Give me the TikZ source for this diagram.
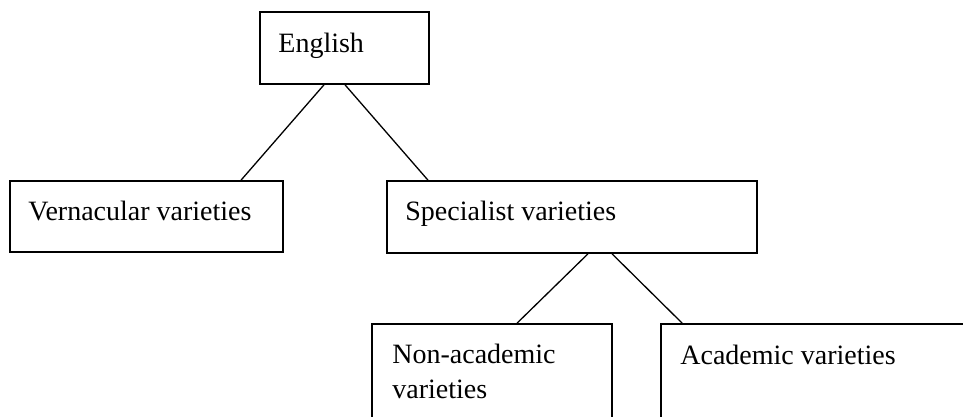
\documentclass[tikz,border=0pt]{standalone}
\usepackage{fontspec}
\setmainfont{Liberation Serif}
\usetikzlibrary{calc}

\begin{document}
\begin{tikzpicture}[x=1pt,y=1pt]
  \tikzset{box/.style={draw,line width=1.6pt,inner sep=0pt},
           txt/.style={anchor=base west,inner sep=0pt,align=left,
                       font=\fontsize{28}{35}\selectfont}}
  \useasboundingbox (0,0) rectangle (963,-417);
  \clip (0,0) rectangle (963,-417);
  \node[box,minimum width=169,minimum height=72] (english) at (344.5,-48)  {};
  \node[box,minimum width=273,minimum height=71] (vern)    at (146.5,-216.5) {};
  \node[box,minimum width=370,minimum height=72] (spec)    at (572,-217)  {};
  \node[box,minimum width=240,minimum height=116] (nonacad) at (492,-382) {};
  \node[box,minimum width=330,minimum height=116] (acad)   at (826,-382)  {};
  \node[txt] (englishtxt) at ([shift={(19,-41)}]english.north west) {English};
  \node[txt] (verntxt)    at ([shift={(19,-40)}]vern.north west)    {Vernacular varieties};
  \node[txt] (spectxt)    at ([shift={(19,-40)}]spec.north west)    {Specialist varieties};
  \node[txt] (nonacadtxt) at ([shift={(21,-75)}]nonacad.north west) {Non-academic\\varieties};
  \node[txt] (acadtxt)    at ([shift={(20,-41)}]acad.north west)    {Academic varieties};
  \draw[line width=1.3pt] ([xshift=-20.5]english.south) -- ([xshift=94.5]vern.north);
  \draw[line width=1.3pt] ([xshift=0.5]english.south)   -- ([xshift=-144]spec.north);
  \draw[line width=1.3pt] ([xshift=16]spec.south)       -- ([xshift=25]nonacad.north);
  \draw[line width=1.3pt] ([xshift=40]spec.south)       -- ([xshift=22]acad.north west);
\end{tikzpicture}
\end{document}
